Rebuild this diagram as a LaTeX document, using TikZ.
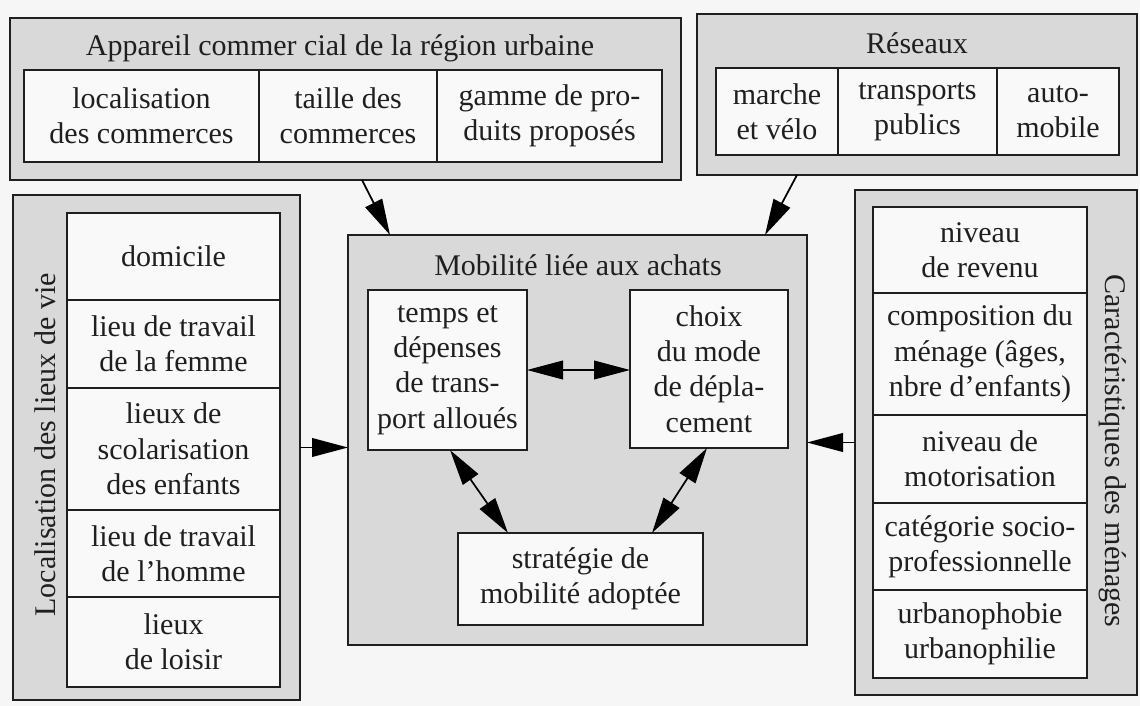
\documentclass[tikz,border=0pt]{standalone}
\usepackage{fontspec}
\setmainfont{Liberation Serif}
\usepackage{tikz}
\usetikzlibrary{arrows.meta,calc,positioning}

\definecolor{pagefill}{gray}{0.965}
\definecolor{framefill}{gray}{0.85}
\definecolor{cellfill}{gray}{0.975}
\definecolor{inkgray}{gray}{0.12}

\begin{document}
\begin{tikzpicture}
  % One unit = one pixel of the reference picture
  \def\pxu{0.75pt}
  \tikzset{
    frame/.style = {draw=inkgray, fill=framefill, line width=1.4pt, inner sep=0pt, outer sep=0pt},
    cell/.style  = {draw=inkgray, fill=cellfill, line width=1.2pt, align=center, inner sep=0pt, outer sep=0pt},
    wh/.style 2 args = {minimum width=#1*\pxu, minimum height=#2*\pxu},
    head/.style  = {inner sep=0pt},
    tip/.tip     = {Triangle[length=27pt,width=14pt]},
    link/.style  = {-tip, line width=1.3pt, draw=black},
    both/.style  = {tip-tip, line width=1.3pt, draw=black}
  }

  \begin{scope}[x=\pxu, y=-\pxu, font=\fontsize{22.5}{26.5}\selectfont, text=inkgray]
    \fill[pagefill] (0,0) rectangle (1140,706);
    \useasboundingbox (0,0) rectangle (1140,706);

    % --- Appareil commercial (top left) ---
    \node[frame, wh={671}{162}] (app) at (345.5,99) {};
    \node[head] (appt) at (340,48) {Appareil commer cial de la région urbaine};
    \node[cell, wh={235}{92}] (loc) at (141.5,116) {localisation\\des commerces};
    \node[cell, wh={178}{92}] (tai) at (348,116) {taille des\\commerces};
    \node[cell, wh={225}{92}] (gam) at (549.5,116) {gamme de pro-\\duits proposés};

    % --- Réseaux (top right) ---
    \node[frame, wh={440}{161}] (res) at (917,94.5) {};
    \node[head] (rest) at (917,43) {Réseaux};
    \node[cell, wh={122}{87}] (mar) at (777,111.5) {marche\\et vélo};
    \node[cell, wh={159}{87}] (tra) at (917.5,111.5) {transports\\publics};
    \node[cell, wh={122}{87}] (aut) at (1058,111.5) {auto-\\mobile};

    % --- Localisation des lieux de vie (left) ---
    \node[frame, wh={287}{505}] (lieux) at (156.5,447.5) {};
    \node[head, rotate=90] (lieuxt) at (45,445) {Localisation des lieux de vie};
    \node[cell, wh={213}{87}]  (dom) at (173.5,256.5) {domicile};
    \node[cell, wh={213}{88}]  (ltf) at (173.5,344) {lieu de travail\\de la femme};
    \node[cell, wh={213}{122}] (sco) at (173.5,449) {lieux de\\scolarisation\\des enfants};
    \node[cell, wh={213}{87}]  (lth) at (173.5,553.5) {lieu de travail\\de l'homme};
    \node[cell, wh={213}{90}]  (loi) at (173.5,642) {lieux\\de loisir};

    % --- Mobilité liée aux achats (centre) ---
    \node[frame, wh={459}{410}] (mob) at (577.5,440) {};
    \node[head] (mobt) at (578,265) {Mobilité liée aux achats};
    \node[cell, wh={159}{160}] (tps) at (447.5,370) {temps et\\dépenses\\de trans-\\port alloués};
    \node[cell, wh={158}{158}] (cho) at (709,369) {choix\\du mode\\de dépla-\\cement};
    \node[cell, wh={245}{92}]  (str) at (580.5,579) {stratégie de\\mobilité adoptée};

    % --- Caractéristiques des ménages (right) ---
    \node[frame, wh={282}{505}] (men) at (996,442.5) {};
    \node[head, rotate=-90] (ment) at (1113,451) {Caractéristiques des ménages};
    \node[cell, wh={214}{86}]  (rev) at (980,250) {niveau\\de revenu};
    \node[cell, wh={214}{122}] (com) at (980,354) {composition du\\ménage (âges,\\nbre d'enfants)};
    \node[cell, wh={214}{88}]  (mot) at (980,459) {niveau de\\motorisation};
    \node[cell, wh={214}{87}]  (cat) at (980,546.5) {catégorie socio-\\professionnelle};
    \node[cell, wh={214}{88}]  (urb) at (980,634) {urbanophobie\\urbanophilie};

    % --- Arrows into the centre ---
    \draw[link] ([xshift=16.5*\pxu]app.south) -- ([xshift=-187.5*\pxu]mob.north);
    \draw[link] ([xshift=-120*\pxu]res.south) -- ([xshift=187.5*\pxu]mob.north);
    \draw[link] (lieux.east) -- (lieux.east -| mob.west);
    \draw[link] (men.west) -- (men.west -| mob.east);

    % --- Arrows inside the centre ---
    \draw[both] (tps.east) -- (tps.east -| cho.west);
    \draw[both] ([xshift=2.5*\pxu]tps.south) -- ([xshift=-72.5*\pxu]str.north);
    \draw[both] ([xshift=-2*\pxu]cho.south) -- ([xshift=71.5*\pxu]str.north);
  \end{scope}
\end{tikzpicture}
\end{document}
